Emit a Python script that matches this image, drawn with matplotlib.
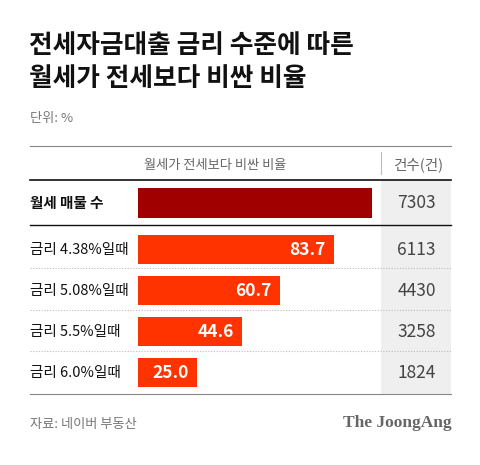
import matplotlib.pyplot as plt
from matplotlib.patches import Rectangle

plt.rcParams['font.family'] = ['Noto Sans CJK KR', 'DejaVu Sans']

title = "전세자금대출 금리 수준에 따른\n월세가 전세보다 비싼 비율"
unit = "단위: %"
header_bar = "월세가 전세보다 비싼 비율"
header_cnt = "건수(건)"
labels = ["월세 매물 수", "금리 4.38%일때", "금리 5.08%일때", "금리 5.5%일때", "금리 6.0%일때"]
shares = [100, 83.7, 60.7, 44.6, 25.0]
counts = [7303, 6113, 4430, 3258, 1824]
source = "자료: 네이버 부동산"
brand = "The JoongAng"

W, H = 480, 465
fig = plt.figure(figsize=(W / 100, H / 100), dpi=100)

# page axes in pixel units for text and table rules
ax = fig.add_axes([0, 0, 1, 1])
ax.set_xlim(0, W)
ax.set_ylim(H, 0)
ax.axis('off')

# row centres (pixels)
rows = [203, 249.5, 290.5, 331.5, 372.5]

# grey count column
ax.add_patch(Rectangle((381, 180), 70, 214, color='#efefef', lw=0, zorder=0))

ax.text(29, 62, title, fontsize=18.5, fontweight='black', color='#111111',
        va='center', ha='left', linespacing=1.3)
ax.text(30, 118, unit, fontsize=9.5, color='#777777', va='center')

ax.plot([30, 451], [146, 146], color='#888888', lw=0.8)
ax.text(215, 165, header_bar, fontsize=9.5, color='#666666', ha='center', va='center')
ax.plot([381, 381], [152, 174], color='#bbbbbb', lw=0.8)
ax.text(418, 165, header_cnt, fontsize=10.5, color='#666666', ha='center', va='center')
ax.plot([30, 451], [180, 180], color='#111111', lw=1.2)
ax.plot([30, 451], [225, 225], color='#111111', lw=1.0)
for y in [268, 310, 351]:
    ax.plot([30, 451], [y, y], color='#bbbbbb', lw=0.8, ls=(0, (1, 1.5)))
ax.plot([30, 451], [394, 394], color='#888888', lw=0.8)

for i, (lab, c) in enumerate(zip(labels, counts)):
    ax.text(30, rows[i], lab, fontsize=10.5, color='#111111', va='center',
            fontweight='bold' if i == 0 else 'medium')
    ax.text(436, rows[i], str(c), fontsize=12.5, color='#444444', va='center', ha='right')

ax.text(30, 424, source, fontsize=9.5, color='#777777', va='center')
ax.text(452, 423, brand, fontsize=12.5, color='#666666', va='center', ha='right',
        family='Liberation Serif', fontweight='bold')

# bar axes: 0..100 maps to x 138..372
bx = fig.add_axes([138 / W, 1 - 394 / H, (372 - 138) / W, (394 - 180) / H])
bx.set_xlim(0, 100)
bx.set_ylim(394, 180)
bx.axis('off')
colors = ['#a00000'] + ['#ff3300'] * 4
bx.barh(rows, shares, height=29.5, color=colors)
for i, v in enumerate(shares):
    if i == 0:
        continue
    bx.text(v - 3.5, rows[i], f"{v:.1f}", fontsize=12.5, fontweight='bold',
            color='white', ha='right', va='center')

fig.savefig("out.png", dpi=100)
